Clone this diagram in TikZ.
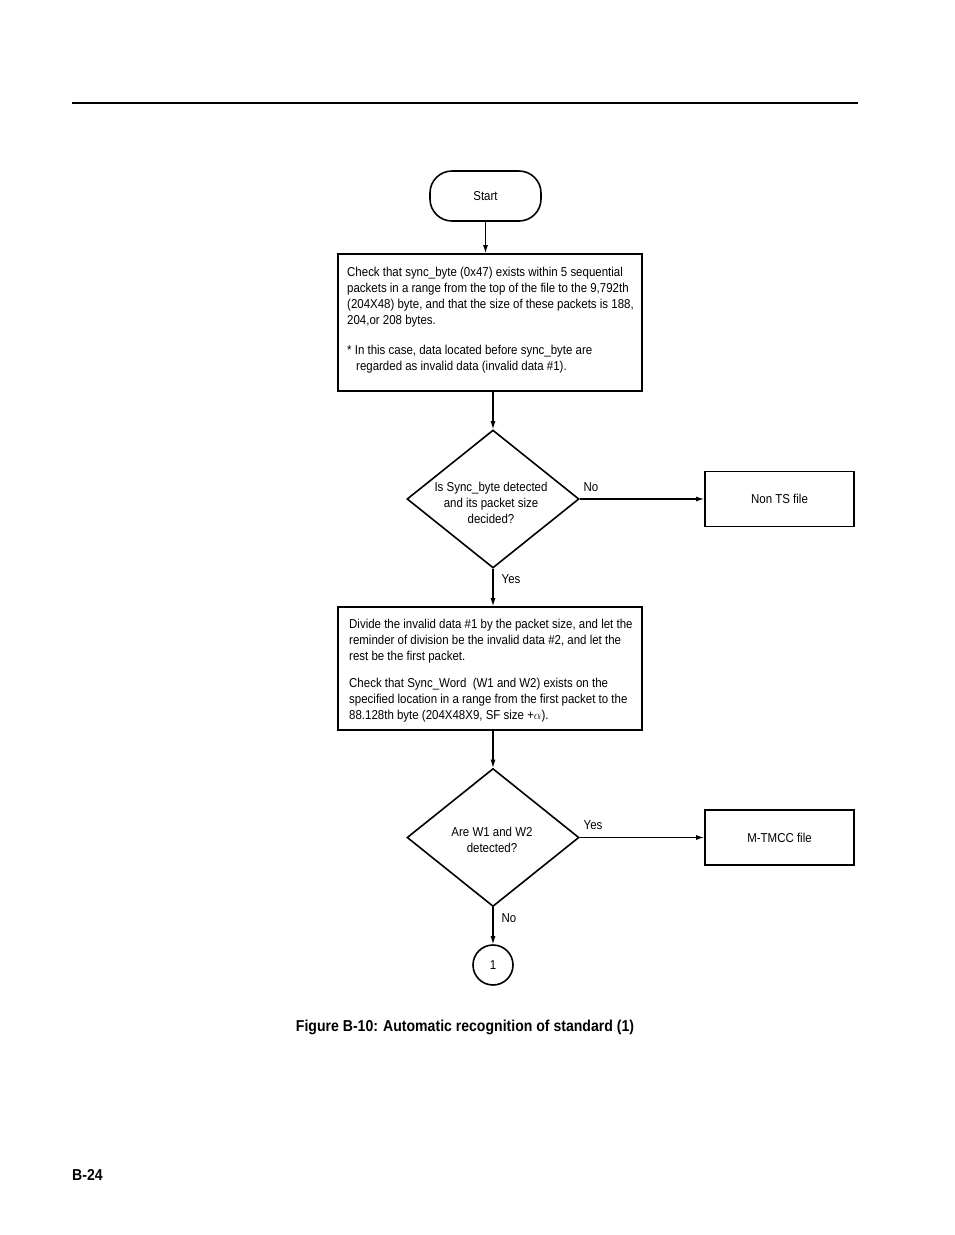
\documentclass[tikz,border=0pt]{standalone}
\usepackage{fontspec}
\setmainfont{Liberation Sans}[FakeStretch=0.89]
\usetikzlibrary{shapes.geometric,arrows.meta}
\begin{document}
\begin{tikzpicture}[x=1pt,y=-1pt,
  every node/.style={font=\fontsize{12.9}{16}\selectfont, inner sep=0pt},
  box/.style={draw, line width=1.8pt, rectangle},
  btext/.style={anchor=north west, align=left},
  term/.style={draw, line width=1.6pt, rectangle, rounded corners=22pt, minimum width=111pt, minimum height=50pt},
  dia/.style={draw, line width=1.6pt, diamond, minimum width=172pt, minimum height=138pt},
  conn/.style={draw, line width=1.6pt, circle, minimum size=40pt},
  arr/.style={line width=1.1pt, -{Latex[length=8pt,width=5pt]}},
  lbl/.style={font=\fontsize{12.9}{14}\selectfont}
]
\useasboundingbox (0,0) rectangle (954,1235);
\fill[white] (0,0) rectangle (954,1235);
\coordinate (r1) at (72,103);
\coordinate (r2) at (858,103);
\draw[line width=1.3pt] (r1) -- (r2);

\node[term] (start) at (485.5,196) {Start};

\node[box, minimum width=304pt, minimum height=137pt] (b1) at (490,322.5) {};
\node[btext] (b1t) at (347,266.5)
 {Check that sync\_byte (0x47) exists within 5 sequential\\
packets in a range from the top of the file to the 9,792th\\
(204X48) byte, and that the size of these packets is 188,\\
204,or 208 bytes.\\[14pt]
* In this case, data located before sync\_byte are\\
\hspace*{9pt}regarded as invalid data (invalid data \#1).};

\node[dia] (d1) at (493,499) {};
\node[align=center] (d1t) at (491,502.5) {Is Sync\_byte detected\\and its packet size\\decided?};

\node[box, minimum width=149pt, minimum height=55pt, align=center] (nts) at (779.5,499) {Non TS file};

\node[box, minimum width=304pt, minimum height=123pt] (b2) at (490,668.5) {};
\node[btext] (b2t) at (349,618.5)
 {Divide the invalid data \#1 by the packet size, and let the\\
reminder of division be the invalid data \#2, and let the\\
rest be the first packet.\\[11pt]
Check that Sync\_Word\ \ (W1 and W2) exists on the\\
specified location in a range from the first packet to the\\
88.128th byte (204X48X9, SF size +$\alpha$).};

\node[dia] (d2) at (493,837.5) {};
\node[align=center] (d2t) at (492,840) {Are W1 and W2\\detected?};

\node[box, minimum width=149pt, minimum height=55pt, align=center] (mt) at (779.5,837.5) {M-TMCC file};

\node[conn] (c1) at (493,965) {1};

\draw[arr] (start.south) -- (start.south |- b1.north);
\draw[arr] (d1.north |- b1.south) -- (d1.north);
\draw[arr] (d1.east) -- (nts.west);
\draw[arr] (d1.south) -- (d1.south |- b2.north);
\draw[arr] (d2.north |- b2.south) -- (d2.north);
\draw[arr] (d2.east) -- (mt.west);
\draw[arr] (d2.south) -- (c1.north);

\node[lbl] (l1) at (591,487) {No};
\node[lbl] (l2) at (511,579) {Yes};
\node[lbl] (l3) at (593,825) {Yes};
\node[lbl] (l4) at (509,918) {No};

\node[font=\fontsize{15.8}{18}\selectfont\bfseries] (cap) at (465,1027) {Figure B-10: Automatic recognition of standard (1)};
\node[font=\fontsize{15.8}{18}\selectfont\bfseries, anchor=west] (pg) at (72,1175) {B-24};
\end{tikzpicture}
\end{document}
